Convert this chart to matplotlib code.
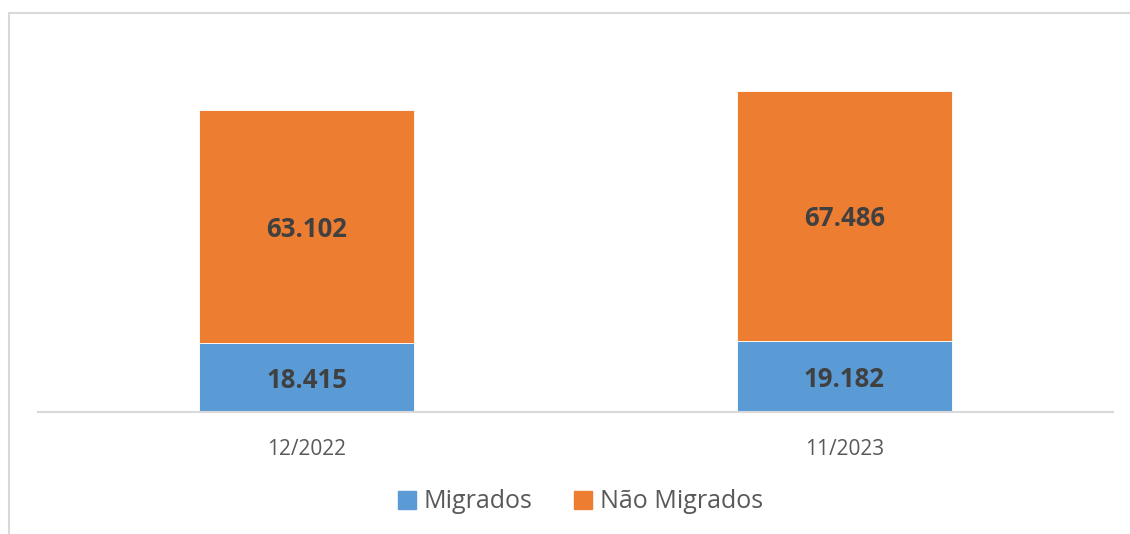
import matplotlib
matplotlib.use("Agg")
import matplotlib.pyplot as plt
from matplotlib.lines import Line2D

plt.rcParams["font.family"] = ["Open Sans", "DejaVu Sans"]

# data
periods = ["12/2022", "11/2023"]
migrados = [18415, 19182]
nao_migrados = [63102, 67486]
series_names = ["Migrados", "Não Migrados"]

BLUE = "#5B9BD5"
ORANGE = "#ED7D31"
GRID = "#D9D9D9"
LABEL = "#404040"
TICK = "#595959"

W, H = 1130, 534
fig = plt.figure(figsize=(W / 100, H / 100), dpi=100)
ax = fig.add_axes([38 / W, 1 - 411.5 / H, 1075 / W, 370 / H])

x = list(range(len(periods)))
ax.bar(x, migrados, width=0.4, color=BLUE, edgecolor="white", linewidth=0.6)
ax.bar(x, nao_migrados, width=0.4, bottom=migrados, color=ORANGE,
       edgecolor="white", linewidth=0.6)


def fmt(v):
    return f"{v:,}".replace(",", ".")


for i in x:
    ax.text(i, migrados[i] / 2, fmt(migrados[i]), ha="center", va="center_baseline",
            fontsize=18.5, fontweight="bold", color=LABEL)
    ax.text(i, migrados[i] + nao_migrados[i] / 2, fmt(nao_migrados[i]),
            ha="center", va="center_baseline", fontsize=18.5, fontweight="bold",
            color=LABEL)

ax.set_xlim(-0.5, 1.5)
ax.set_ylim(0, 100000)
ax.set_yticks([])
ax.set_xticks(x)
ax.set_xticklabels(periods, fontsize=15, color=TICK)
ax.tick_params(axis="x", length=0, pad=20)
for side in ["top", "right", "left"]:
    ax.spines[side].set_visible(False)
ax.spines["bottom"].set_color(GRID)
ax.spines["bottom"].set_linewidth(1.5)

# outer chart frame (only left and top are visible in the crop)
fig.add_artist(Line2D([8.5 / W, 8.5 / W], [0, 1 - 12.5 / H], color=GRID,
                      linewidth=1.5, transform=fig.transFigure))
fig.add_artist(Line2D([8.5 / W, 1], [1 - 12.5 / H, 1 - 12.5 / H], color=GRID,
                      linewidth=1.5, transform=fig.transFigure))

handles = [
    Line2D([], [], marker="s", linestyle="none", markersize=12.5,
           markerfacecolor=BLUE, markeredgecolor=BLUE),
    Line2D([], [], marker="s", linestyle="none", markersize=12.5,
           markerfacecolor=ORANGE, markeredgecolor=ORANGE),
]
leg = fig.legend(handles, series_names, loc="center", ncol=2,
                 bbox_to_anchor=(580 / W, 1 - 502 / H), frameon=False,
                 fontsize=18, handlelength=0.8, handletextpad=0.3,
                 columnspacing=1.6)
for t in leg.get_texts():
    t.set_color(TICK)

fig.savefig("out.png", dpi=100)
